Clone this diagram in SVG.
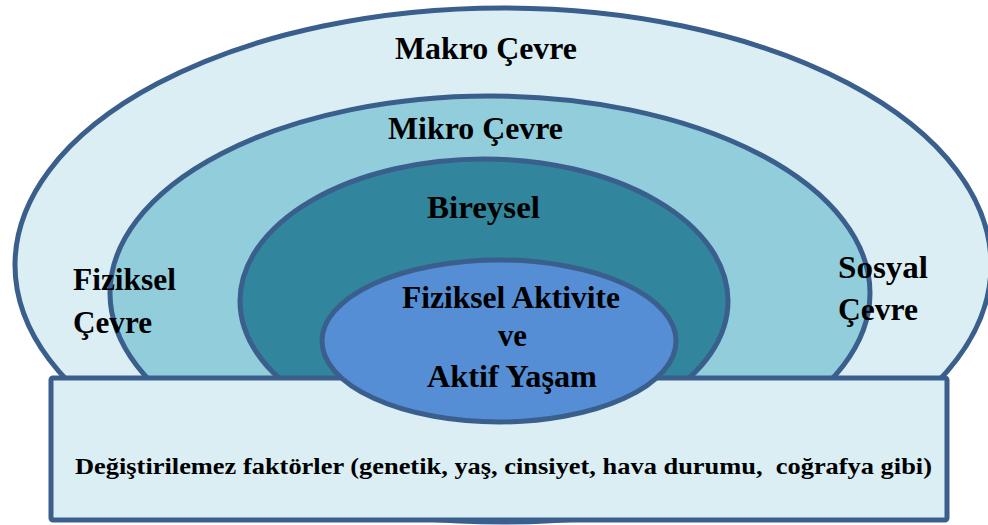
<svg xmlns="http://www.w3.org/2000/svg" width="988" height="525" viewBox="0 0 988 525">
<style>
.sh{stroke:#3A5F8D;stroke-width:5}
.t{font-family:"Liberation Serif","Times New Roman",serif;font-weight:bold;fill:#000}
.l{font-size:31px}
.s{font-size:23px}
</style>
<rect width="988" height="525" fill="#fff"/>
<g id="makro"><ellipse class="sh" cx="503" cy="265" rx="488" ry="257" fill="#DAEEF3"/></g>
<g id="mikro"><ellipse class="sh" cx="490" cy="293" rx="380" ry="197" fill="#92CDDC"/></g>
<g id="bireysel"><ellipse class="sh" cx="484" cy="301" rx="244" ry="142" fill="#31859C"/></g>
<g id="degistirilemez"><rect class="sh" x="51" y="378" width="896" height="142" rx="2" fill="#DAEEF3"/>
<text class="t s" x="75" y="474" textLength="857" lengthAdjust="spacingAndGlyphs" xml:space="preserve">Değiştirilemez faktörler (genetik, yaş, cinsiyet, hava durumu,  coğrafya gibi)</text></g>
<g id="aktivite"><ellipse class="sh" cx="499" cy="341" rx="177" ry="81" fill="#558ED5"/>
<text class="t l" x="402" y="308" textLength="218" lengthAdjust="spacingAndGlyphs">Fiziksel Aktivite</text>
<text class="t l" x="498" y="346" textLength="29" lengthAdjust="spacingAndGlyphs">ve</text>
<text class="t l" x="427" y="387" textLength="170" lengthAdjust="spacingAndGlyphs">Aktif Yaşam</text></g>
<g id="labels">
<text class="t l" x="395" y="59" textLength="182" lengthAdjust="spacingAndGlyphs">Makro Çevre</text>
<text class="t l" x="388" y="139" textLength="175" lengthAdjust="spacingAndGlyphs">Mikro Çevre</text>
<text class="t l" x="427" y="218" textLength="113" lengthAdjust="spacingAndGlyphs">Bireysel</text>
<text class="t l" x="73" y="290" textLength="103" lengthAdjust="spacingAndGlyphs">Fiziksel</text>
<text class="t l" x="73" y="333" textLength="79" lengthAdjust="spacingAndGlyphs">Çevre</text>
<text class="t l" x="838" y="278" textLength="90" lengthAdjust="spacingAndGlyphs">Sosyal</text>
<text class="t l" x="838" y="320" textLength="80" lengthAdjust="spacingAndGlyphs">Çevre</text>
</g>
<g id="connectors"></g>
</svg>
